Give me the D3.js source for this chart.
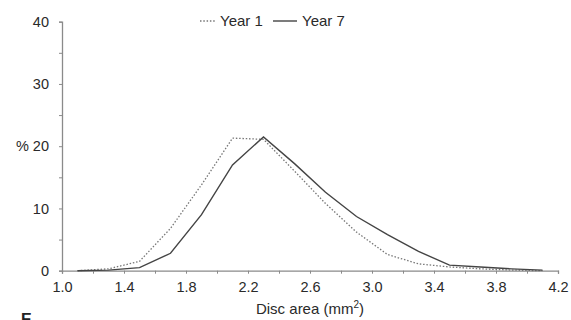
<!DOCTYPE html>
<html>
<head>
<meta charset="utf-8">
<script src="https://cdn.jsdelivr.net/npm/d3@7"></script>
<style>
  body { margin: 0; background: #fff; }
  svg { display: block; font-family: "Liberation Sans", Arial, sans-serif; }
</style>
</head>
<body>
<svg id="chart" width="571" height="320"></svg>
<script>
// disc area distribution, year 1 vs year 7
const discArea = [1.1, 1.3, 1.5, 1.7, 1.9, 2.1, 2.3, 2.5, 2.7, 2.9, 3.1, 3.3, 3.5, 3.7, 3.9, 4.1];
const year1 = [0, 0.3, 1.5, 6.8, 13.8, 21.3, 21.1, 16.0, 10.8, 6.2, 2.6, 1.1, 0.6, 0.3, 0.1, 0];
const year7 = [0, 0.1, 0.5, 2.8, 9.0, 17.0, 21.5, 17.2, 12.6, 8.7, 5.8, 3.1, 0.9, 0.6, 0.3, 0.1];
const xTicks = [1.0, 1.2, 1.4, 1.6, 1.8, 2.0, 2.2, 2.4, 2.6, 2.8, 3.0, 3.2, 3.4, 3.6, 3.8, 4.0, 4.2];
const yTicks = [0, 5, 10, 15, 20, 25, 30, 35, 40];

const svg = d3.select('#chart');
const x = d3.scaleLinear().domain([1.0, 4.2]).range([62, 558]);
const y = d3.scaleLinear().domain([0, 40]).range([270.7, 21.7]);
const axisColor = '#8a8a8a', textColor = '#2a2a2a';

// x axis
const xAxis = svg.append('g').attr('transform', `translate(0,${y(0)})`)
    .call(d3.axisBottom(x).tickValues(xTicks).tickSize(3).tickPadding(8)
        .tickFormat(d => Math.round(d * 10) % 4 === 2 ? d3.format('.1f')(d) : ''));
xAxis.select('.domain').attr('stroke', axisColor).attr('stroke-width', 1.3);
xAxis.selectAll('.tick line').attr('stroke', axisColor);
xAxis.selectAll('.tick text').attr('fill', textColor).attr('font-size', 14.5)
    .attr('font-family', '"Liberation Sans", Arial, sans-serif');

// y axis
const yAxis = svg.append('g').attr('transform', `translate(${x(1.0)},0)`)
    .call(d3.axisLeft(y).tickValues(yTicks).tickSize(3).tickPadding(10)
        .tickFormat(d => d % 10 === 0 ? (d === 20 ? '% 20' : d) : ''));
yAxis.select('.domain').attr('stroke', axisColor).attr('stroke-width', 1.3);
yAxis.selectAll('.tick line').attr('stroke', axisColor);
yAxis.selectAll('.tick text').attr('fill', textColor).attr('font-size', 14.5)
    .attr('font-family', '"Liberation Sans", Arial, sans-serif');

// lines
const line = arr => d3.line().x((d, i) => x(discArea[i])).y(d => y(d))(arr);
svg.append('path').attr('d', line(year1)).attr('fill', 'none')
    .attr('stroke', '#777').attr('stroke-width', 1.3).attr('stroke-dasharray', '1.5,1.8');
svg.append('path').attr('d', line(year7)).attr('fill', 'none')
    .attr('stroke', '#444').attr('stroke-width', 1.4);

// legend
const lg = svg.append('g').attr('font-size', 15).attr('fill', textColor);
lg.append('line').attr('x1', 200).attr('x2', 216).attr('y1', 21).attr('y2', 21)
    .attr('stroke', '#777').attr('stroke-width', 1.3).attr('stroke-dasharray', '1.5,1.8');
lg.append('text').attr('x', 220).attr('y', 26).text('Year 1');
lg.append('line').attr('x1', 273).attr('x2', 297).attr('y1', 21).attr('y2', 21)
    .attr('stroke', '#444').attr('stroke-width', 1.4);
lg.append('text').attr('x', 302).attr('y', 26).text('Year 7');

// axis title
const t = svg.append('text').attr('x', 310).attr('y', 314).attr('text-anchor', 'middle')
    .attr('font-size', 15).attr('fill', textColor).text('Disc area (mm');
t.append('tspan').attr('font-size', 10).attr('dy', -6).text('2');
t.append('tspan').attr('dy', 6).text(')');

// cut-off panel letter at the bottom edge, as in the source figure
svg.append('text').attr('x', 21).attr('y', 324.5).attr('font-size', 16)
    .attr('font-weight', 'bold').attr('fill', '#222').text('E');
</script>
</body>
</html>
